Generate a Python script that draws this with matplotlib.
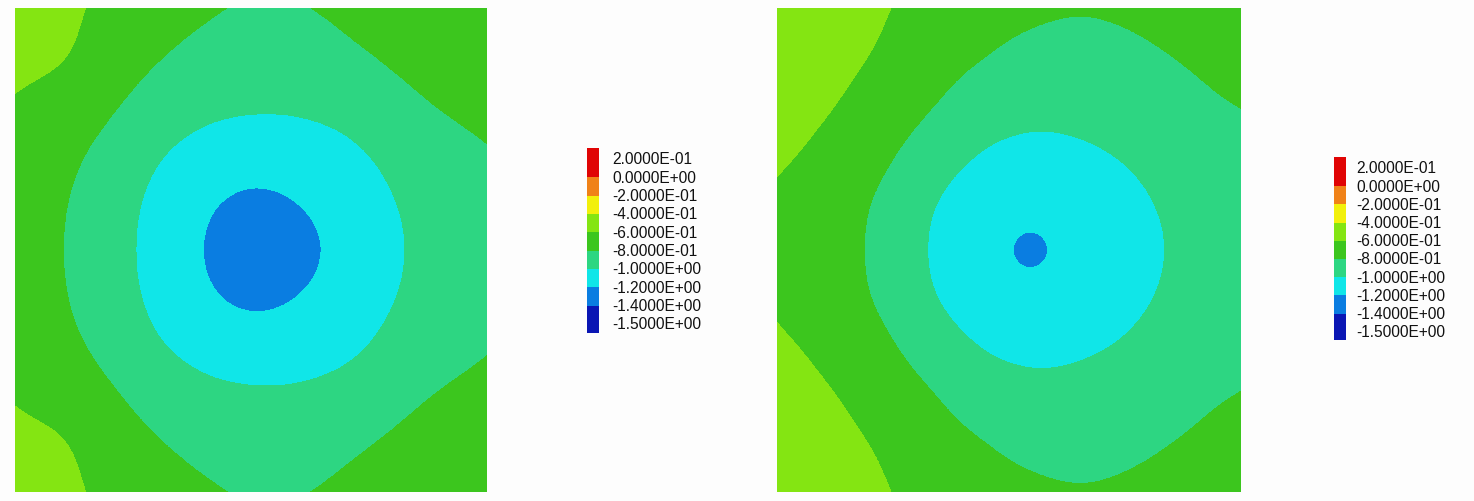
import numpy as np
import matplotlib
matplotlib.use("Agg")
import matplotlib.pyplot as plt
from matplotlib.colors import ListedColormap, BoundaryNorm
from matplotlib import transforms

# ---------------- data ----------------
levels = [-1.5, -1.4, -1.2, -1.0, -0.8, -0.6, -0.4, -0.2, 0.0, 0.2]
band_colors = ["#0a16b4", "#0a7de1", "#10e6e8", "#2dd682", "#3cc61e",
               "#84e512", "#f2f00c", "#f08218", "#e00404"]
tick_labels = ["2.0000E-01", "0.0000E+00", "-2.0000E-01", "-4.0000E-01",
               "-6.0000E-01", "-8.0000E-01", "-1.0000E+00", "-1.2000E+00",
               "-1.4000E+00", "-1.5000E+00"]

grid_rows = [0.0, 0.1, 0.2, 0.3, 0.4, 0.5, 0.6, 0.7, 0.8, 0.9, 1.0]

left_cols = [0.0, 0.1, 0.2, 0.3, 0.4, 0.5, 0.6, 0.7, 0.8, 0.9, 1.0]
left_vals = [
    [-0.473, -0.559, -0.639, -0.717, -0.772, -0.828, -0.817, -0.760, -0.725, -0.694, -0.660],
    [-0.548, -0.550, -0.701, -0.784, -0.854, -0.904, -0.896, -0.826, -0.774, -0.738, -0.701],
    [-0.614, -0.687, -0.768, -0.880, -0.957, -0.972, -0.970, -0.932, -0.845, -0.781, -0.746],
    [-0.675, -0.749, -0.852, -0.993, -1.068, -1.101, -1.095, -1.058, -0.953, -0.868, -0.813],
    [-0.700, -0.780, -0.913, -1.048, -1.171, -1.269, -1.200, -1.113, -1.007, -0.933, -0.867],
    [-0.709, -0.790, -0.924, -1.063, -1.211, -1.384, -1.288, -1.150, -1.018, -0.948, -0.888],
    [-0.700, -0.780, -0.913, -1.048, -1.171, -1.269, -1.200, -1.113, -1.007, -0.933, -0.867],
    [-0.675, -0.749, -0.852, -0.993, -1.068, -1.101, -1.095, -1.058, -0.953, -0.868, -0.813],
    [-0.614, -0.687, -0.768, -0.880, -0.957, -0.972, -0.970, -0.932, -0.845, -0.781, -0.746],
    [-0.548, -0.550, -0.701, -0.784, -0.854, -0.904, -0.896, -0.826, -0.774, -0.738, -0.701],
    [-0.473, -0.559, -0.639, -0.717, -0.772, -0.828, -0.817, -0.760, -0.725, -0.694, -0.660],
]

right_cols = [-0.057, 0.043, 0.143, 0.243, 0.343, 0.443, 0.543, 0.643, 0.743, 0.843, 0.943, 1.043]
right_vals = [
    [-0.450, -0.483, -0.535, -0.594, -0.671, -0.728, -0.760, -0.795, -0.775, -0.745, -0.715, -0.690],
    [-0.474, -0.518, -0.565, -0.615, -0.737, -0.782, -0.857, -0.868, -0.845, -0.800, -0.762, -0.730],
    [-0.513, -0.556, -0.595, -0.702, -0.788, -0.901, -0.953, -0.951, -0.915, -0.870, -0.806, -0.782],
    [-0.552, -0.585, -0.665, -0.774, -0.911, -1.023, -1.049, -1.028, -0.994, -0.932, -0.880, -0.835],
    [-0.587, -0.654, -0.740, -0.849, -1.020, -1.099, -1.143, -1.110, -1.053, -0.981, -0.921, -0.862],
    [-0.605, -0.682, -0.737, -0.872, -1.045, -1.137, -1.310, -1.153, -1.075, -0.997, -0.939, -0.880],
    [-0.587, -0.654, -0.740, -0.849, -1.020, -1.099, -1.143, -1.110, -1.053, -0.981, -0.921, -0.862],
    [-0.552, -0.585, -0.665, -0.774, -0.911, -1.023, -1.049, -1.028, -0.994, -0.932, -0.880, -0.835],
    [-0.513, -0.556, -0.595, -0.702, -0.788, -0.901, -0.953, -0.951, -0.915, -0.870, -0.806, -0.782],
    [-0.474, -0.518, -0.565, -0.615, -0.737, -0.782, -0.857, -0.868, -0.845, -0.800, -0.762, -0.730],
    [-0.450, -0.483, -0.535, -0.594, -0.671, -0.728, -0.760, -0.795, -0.775, -0.745, -0.715, -0.690],
]

# ---------------- figure ----------------
W, H = 1474, 502
fig = plt.figure(figsize=(W / 100, H / 100), dpi=100, facecolor="#fdfdfd")
cmap = ListedColormap(band_colors)
norm = BoundaryNorm(levels, cmap.N)


def px_axes(x0, y0, x1, y1):
    """axes from pixel box (top-left origin)"""
    return fig.add_axes([x0 / W, (H - y1) / H, (x1 - x0) / W, (y1 - y0) / H])


def draw_field(ax, cols, rows, vals):
    du = cols[1] - cols[0]
    dv = rows[1] - rows[0]
    pad = 2
    # boundary handling for the smoothing filter (linear continuation)
    Z = np.pad(np.asarray(vals, float), pad, mode="reflect", reflect_type="odd")
    ax.imshow(Z, cmap=cmap, norm=norm, origin="upper", aspect="auto",
              interpolation="bicubic", interpolation_stage="data",
              extent=(cols[0] - du * (pad + 0.5), cols[-1] + du * (pad + 0.5),
                      rows[-1] + dv * (pad + 0.5), rows[0] - dv * (pad + 0.5)))
    ax.set_xlim(0, 1)
    ax.set_ylim(1, 0)
    ax.set_axis_off()


def draw_legend(ax, top_idx, bot_idx, label_x):
    n = len(band_colors)
    for k in range(n):
        color = band_colors[n - 1 - k]
        top = top_idx if k == 0 else k
        bot = bot_idx if k == n - 1 else k + 1
        ax.bar(0.5, bot - top, bottom=top, width=1.0, color=color,
               edgecolor="none", align="center")
    ax.set_xlim(0, 1)
    ax.set_ylim(bot_idx, top_idx)
    ax.set_axis_off()
    trans = transforms.blended_transform_factory(ax.transAxes, ax.transData)
    for i, lab in enumerate(tick_labels):
        ax.text(label_x, i, lab, transform=trans, ha="left", va="center",
                fontsize=11.2, family=["Liberation Sans", "DejaVu Sans"],
                color="#111111", clip_on=False)


ax1 = px_axes(15, 9, 487, 493)
draw_field(ax1, left_cols, grid_rows, left_vals)

ax2 = px_axes(777, 9, 1241, 493)
draw_field(ax2, right_cols, grid_rows, right_vals)

cb1 = px_axes(587, 149, 599, 334)
draw_legend(cb1, -0.6, 9.5, 2.1)

cb2 = px_axes(1334, 158, 1346, 341)
draw_legend(cb2, -0.6, 9.45, 1.85)

fig.savefig("out.png", dpi=100, facecolor=fig.get_facecolor())
